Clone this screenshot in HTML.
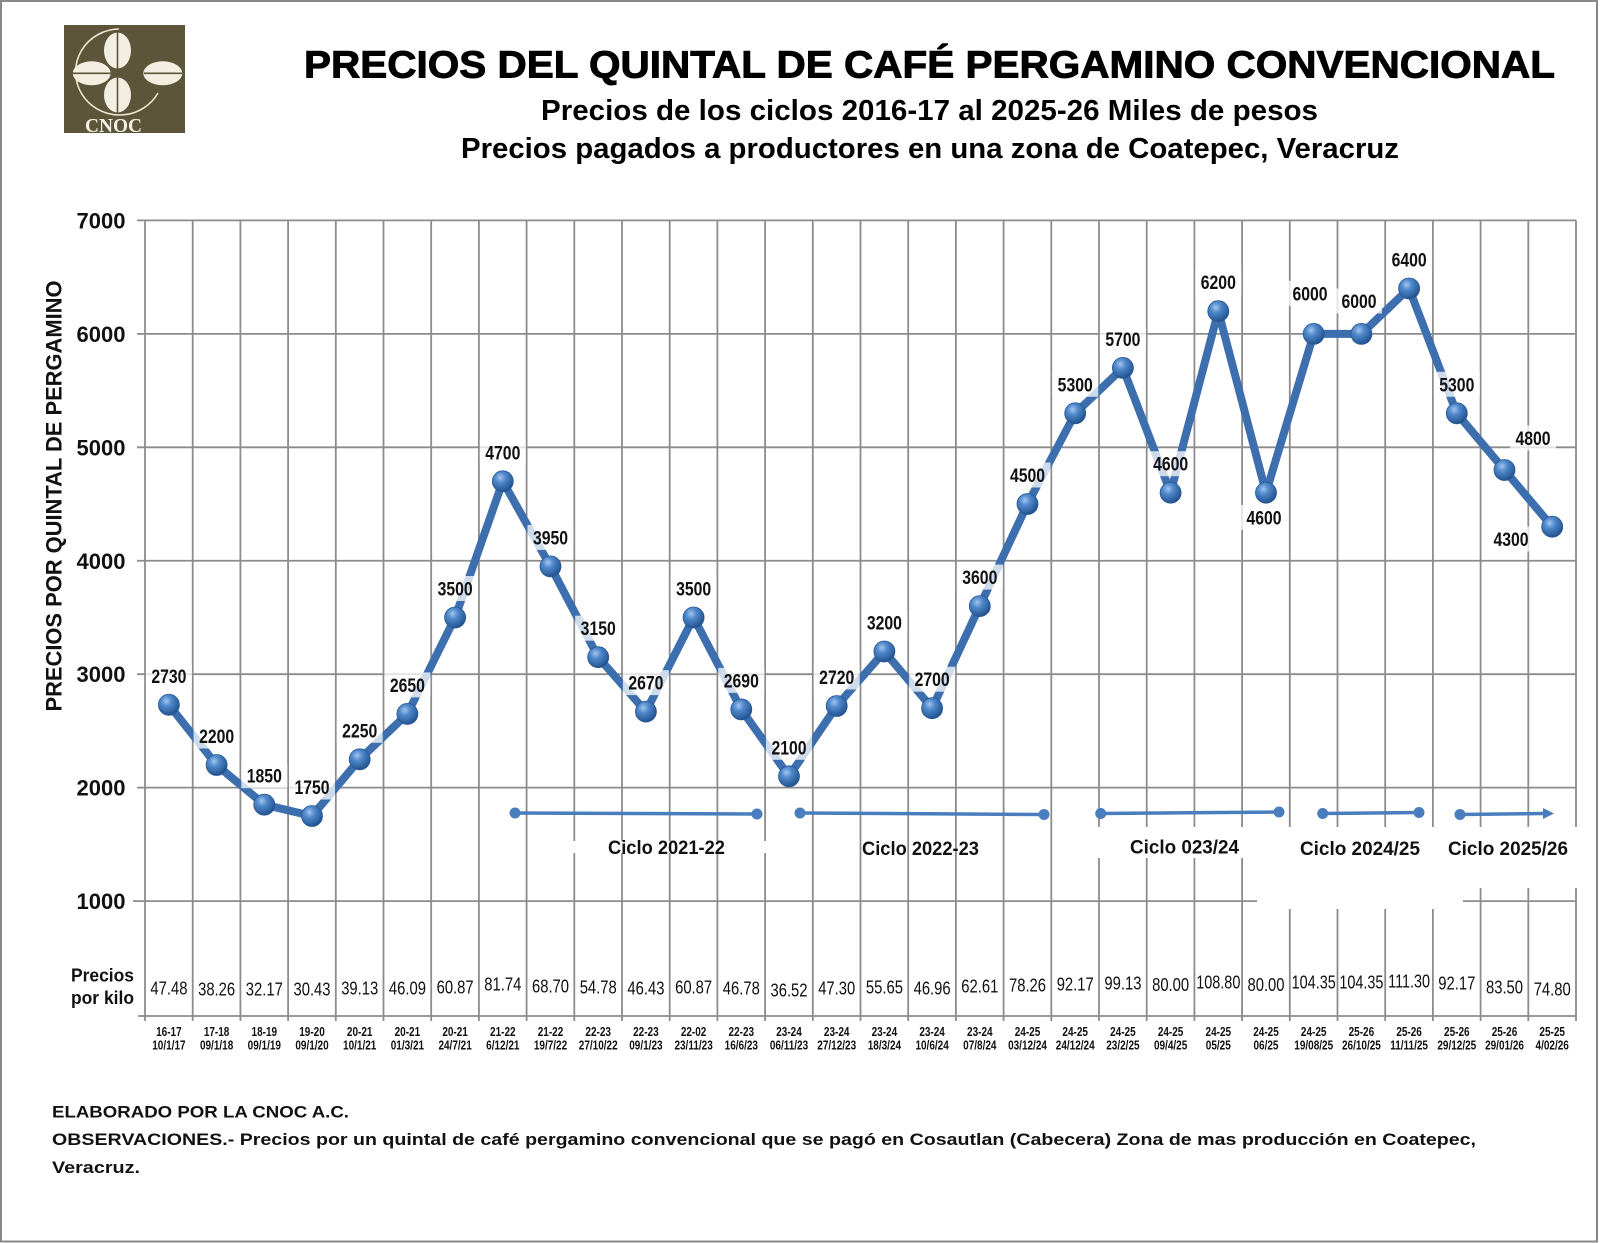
<!DOCTYPE html>
<html><head><meta charset="utf-8"><style>html,body{margin:0;padding:0;background:#fff}svg{display:block}</style></head>
<body>
<svg width="1600" height="1243" viewBox="0 0 1600 1243" xmlns="http://www.w3.org/2000/svg" font-family="'Liberation Sans', Arial, sans-serif">
<defs>
<radialGradient id="m" cx="38%" cy="32%" r="72%">
<stop offset="0" stop-color="#a3c4ee"/>
<stop offset="0.35" stop-color="#5089cc"/>
<stop offset="1" stop-color="#1f4e8a"/>
</radialGradient>
</defs>
<rect x="0" y="0" width="1600" height="1243" fill="#fff"/>
<rect x="1" y="1" width="1596" height="1240.5" fill="none" stroke="#888" stroke-width="2"/>

<!-- Logo -->
<rect x="64" y="25" width="121" height="108" fill="#5c5539"/>
<path d="M119 29 A44 43 0 1 0 158 93" fill="none" stroke="#ece6d2" stroke-width="1.6"/>
<g fill="#f2eee2">
<ellipse cx="117.5" cy="50.5" rx="13.5" ry="18"/>
<ellipse cx="117.5" cy="95" rx="13.5" ry="17.5"/>
<ellipse cx="91.7" cy="73.3" rx="19" ry="12"/>
<ellipse cx="162.8" cy="73.3" rx="19.5" ry="12"/>
</g>
<g stroke="#5c5539" stroke-width="1.6">
<line x1="117.5" y1="32" x2="117.5" y2="113"/>
<line x1="72" y1="73.3" x2="111" y2="73.3"/>
<line x1="144" y1="73.3" x2="182" y2="73.3"/>
</g>
<text x="85" y="132" font-family="'Liberation Serif', serif" font-weight="bold" font-size="20" fill="#f2eee2" textLength="57" lengthAdjust="spacingAndGlyphs">CNOC</text>

<!-- Titles -->
<text x="304" y="77.5" font-size="38" font-weight="bold" fill="#000" stroke="#000" stroke-width="0.9" textLength="1251" lengthAdjust="spacingAndGlyphs">PRECIOS DEL QUINTAL DE CAFÉ PERGAMINO CONVENCIONAL</text>
<text x="541" y="120" font-size="28.5" font-weight="bold" fill="#000" textLength="777" lengthAdjust="spacingAndGlyphs">Precios de los ciclos 2016-17 al 2025-26 Miles de pesos</text>
<text x="461" y="158" font-size="28.5" font-weight="bold" fill="#000" textLength="938" lengthAdjust="spacingAndGlyphs">Precios pagados a productores en una zona de Coatepec, Veracruz</text>

<!-- Grid -->
<g stroke="#8c8c8c" stroke-width="1.8" fill="none">
<path d="M137 220.4H1576 M137 333.85H1576 M137 447.3H1576 M137 560.75H1576 M137 674.2H1576 M137 787.65H1576 M133 901.1H1576 M138 1016H1576"/>
<path d="M145 220.4V1021 M192.7 220.4V1021 M240.4 220.4V1021 M288.1 220.4V1021 M335.8 220.4V1021 M383.5 220.4V1021 M431.2 220.4V1021 M478.9 220.4V1021 M526.6 220.4V1021 M574.3 220.4V1021 M622 220.4V1021 M669.7 220.4V1021 M717.4 220.4V1021 M765.1 220.4V1021 M812.8 220.4V1021 M860.5 220.4V1021 M908.2 220.4V1021 M955.9 220.4V1021 M1003.6 220.4V1021 M1051.3 220.4V1021 M1099 220.4V1021 M1146.7 220.4V1021 M1194.4 220.4V1021 M1242.1 220.4V1021 M1289.8 220.4V1021 M1337.5 220.4V1021 M1385.2 220.4V1021 M1432.9 220.4V1021 M1480.6 220.4V1021 M1528.3 220.4V1021 M1576 220.4V1021"/>
</g>
<!-- white boxes behind cycle labels -->
<g fill="#fff">
<rect x="570" y="841" width="198" height="12"/>
<rect x="1078" y="827" width="179" height="31"/>
<rect x="1257" y="827" width="206" height="82"/>
<rect x="1463" y="827" width="120" height="61"/>
</g>

<!-- Y axis labels -->
<g font-size="22" font-weight="bold" fill="#111" text-anchor="end">
<text x="125.5" y="228.4">7000</text>
<text x="125.5" y="341.9">6000</text>
<text x="125.5" y="455.3">5000</text>
<text x="125.5" y="568.8">4000</text>
<text x="125.5" y="682.2">3000</text>
<text x="125.5" y="795.7">2000</text>
<text x="125.5" y="909.1">1000</text>
</g>
<text transform="translate(61.5,496) rotate(-90)" text-anchor="middle" font-size="22" font-weight="bold" fill="#111" textLength="431" lengthAdjust="spacingAndGlyphs">PRECIOS POR QUINTAL DE PERGAMINO</text>

<!-- Cycle lines -->
<g stroke="#4a7dbd" stroke-width="3.5" fill="none">
<path d="M515 813L757 814 M800 813L1044 814.5 M1100.7 813.5L1279 812 M1322.7 813.5L1419 812.5 M1460 814.5L1545 813.5"/>
</g>
<g fill="#4a7dbd">
<circle cx="515" cy="813" r="5.5"/><circle cx="757" cy="814" r="5.5"/>
<circle cx="800" cy="813" r="5.5"/><circle cx="1044" cy="814.5" r="5.5"/>
<circle cx="1100.7" cy="813.5" r="5.5"/><circle cx="1279" cy="812" r="5.5"/>
<circle cx="1322.7" cy="813.5" r="5.5"/><circle cx="1419" cy="812.5" r="5.5"/>
<circle cx="1460" cy="814.5" r="5.5"/>
<polygon points="1543,808 1554,813.5 1543,819"/>
</g>
<g font-size="19" font-weight="bold" fill="#111">
<text x="608" y="854" textLength="117" lengthAdjust="spacingAndGlyphs">Ciclo 2021-22</text>
<text x="862" y="855" textLength="117" lengthAdjust="spacingAndGlyphs">Ciclo 2022-23</text>
<text x="1130" y="853.5" textLength="109" lengthAdjust="spacingAndGlyphs">Ciclo 023/24</text>
<text x="1300" y="855" textLength="120" lengthAdjust="spacingAndGlyphs">Ciclo 2024/25</text>
<text x="1448" y="855" textLength="120" lengthAdjust="spacingAndGlyphs">Ciclo 2025/26</text>
</g>

<!-- Series -->
<polyline fill="none" stroke="#3d6fae" stroke-width="8" stroke-linejoin="round" points="168.9,704.8 216.6,765 264.3,804.7 312,816 359.7,759.3 407.4,713.9 455.1,617.5 502.8,481.3 550.5,566.4 598.2,657.2 645.9,711.6 693.6,617.5 741.3,709.4 789,776.3 836.7,706 884.4,651.5 932.1,708.2 979.8,606.1 1027.5,504 1075.2,413.3 1122.9,367.9 1170.6,492.7 1218.3,311.2 1266,492.7 1313.7,333.9 1361.4,333.9 1409.1,288.5 1456.8,413.3 1504.5,470 1552.2,526.7"/>
<g fill="url(#m)" stroke="#2a5994" stroke-width="0.8">
<circle cx="168.9" cy="704.8" r="10.5"/><circle cx="216.6" cy="765" r="10.5"/><circle cx="264.3" cy="804.7" r="10.5"/><circle cx="312" cy="816" r="10.5"/><circle cx="359.7" cy="759.3" r="10.5"/><circle cx="407.4" cy="713.9" r="10.5"/><circle cx="455.1" cy="617.5" r="10.5"/><circle cx="502.8" cy="481.3" r="10.5"/><circle cx="550.5" cy="566.4" r="10.5"/><circle cx="598.2" cy="657.2" r="10.5"/><circle cx="645.9" cy="711.6" r="10.5"/><circle cx="693.6" cy="617.5" r="10.5"/><circle cx="741.3" cy="709.4" r="10.5"/><circle cx="789" cy="776.3" r="10.5"/><circle cx="836.7" cy="706" r="10.5"/><circle cx="884.4" cy="651.5" r="10.5"/><circle cx="932.1" cy="708.2" r="10.5"/><circle cx="979.8" cy="606.1" r="10.5"/><circle cx="1027.5" cy="504" r="10.5"/><circle cx="1075.2" cy="413.3" r="10.5"/><circle cx="1122.9" cy="367.9" r="10.5"/><circle cx="1170.6" cy="492.7" r="10.5"/><circle cx="1218.3" cy="311.2" r="10.5"/><circle cx="1266" cy="492.7" r="10.5"/><circle cx="1313.7" cy="333.9" r="10.5"/><circle cx="1361.4" cy="333.9" r="10.5"/><circle cx="1409.1" cy="288.5" r="10.5"/><circle cx="1456.8" cy="413.3" r="10.5"/><circle cx="1504.5" cy="470" r="10.5"/><circle cx="1552.2" cy="526.7" r="10.5"/>
</g>

<!-- Data label backgrounds -->
<g fill="#fff" fill-opacity="0.75">
<rect x="145.9" y="663.3" width="46" height="25"/>
<rect x="193.6" y="723.5" width="46" height="25"/>
<rect x="241.3" y="763.2" width="46" height="25"/>
<rect x="289" y="774.5" width="46" height="25"/>
<rect x="336.7" y="717.8" width="46" height="25"/>
<rect x="384.4" y="672.4" width="46" height="25"/>
<rect x="432.1" y="576" width="46" height="25"/>
<rect x="479.8" y="439.8" width="46" height="25"/>
<rect x="527.5" y="524.9" width="46" height="25"/>
<rect x="575.2" y="615.7" width="46" height="25"/>
<rect x="622.9" y="670.1" width="46" height="25"/>
<rect x="670.6" y="576" width="46" height="25"/>
<rect x="718.3" y="667.9" width="46" height="25"/>
<rect x="766" y="734.8" width="46" height="25"/>
<rect x="813.7" y="664.5" width="46" height="25"/>
<rect x="861.4" y="610" width="46" height="25"/>
<rect x="909.1" y="666.7" width="46" height="25"/>
<rect x="956.8" y="564.6" width="46" height="25"/>
<rect x="1004.5" y="462.5" width="46" height="25"/>
<rect x="1052.2" y="371.8" width="46" height="25"/>
<rect x="1099.9" y="326.4" width="46" height="25"/>
<rect x="1147.6" y="451.2" width="46" height="25"/>
<rect x="1195.3" y="269.7" width="46" height="25"/>
<rect x="1241" y="505" width="46" height="25"/>
<rect x="1287" y="280.8" width="46" height="25"/>
<rect x="1336" y="288.5" width="46" height="25"/>
<rect x="1386.1" y="247" width="46" height="25"/>
<rect x="1433.8" y="371.8" width="46" height="25"/>
<rect x="1510" y="425.5" width="46" height="25"/>
<rect x="1488" y="526.5" width="46" height="25"/>
</g>
<g font-size="19" font-weight="bold" fill="#111" text-anchor="middle">
<text transform="translate(168.9,682.8) scale(.83,1)">2730</text>
<text transform="translate(216.6,743) scale(.83,1)">2200</text>
<text transform="translate(264.3,782.7) scale(.83,1)">1850</text>
<text transform="translate(312,794) scale(.83,1)">1750</text>
<text transform="translate(359.7,737.3) scale(.83,1)">2250</text>
<text transform="translate(407.4,691.9) scale(.83,1)">2650</text>
<text transform="translate(455.1,595.5) scale(.83,1)">3500</text>
<text transform="translate(502.8,459.3) scale(.83,1)">4700</text>
<text transform="translate(550.5,544.4) scale(.83,1)">3950</text>
<text transform="translate(598.2,635.2) scale(.83,1)">3150</text>
<text transform="translate(645.9,689.6) scale(.83,1)">2670</text>
<text transform="translate(693.6,595.5) scale(.83,1)">3500</text>
<text transform="translate(741.3,687.4) scale(.83,1)">2690</text>
<text transform="translate(789,754.3) scale(.83,1)">2100</text>
<text transform="translate(836.7,684) scale(.83,1)">2720</text>
<text transform="translate(884.4,629.5) scale(.83,1)">3200</text>
<text transform="translate(932.1,686.2) scale(.83,1)">2700</text>
<text transform="translate(979.8,584.1) scale(.83,1)">3600</text>
<text transform="translate(1027.5,482) scale(.83,1)">4500</text>
<text transform="translate(1075.2,391.3) scale(.83,1)">5300</text>
<text transform="translate(1122.9,345.9) scale(.83,1)">5700</text>
<text transform="translate(1170.6,470.7) scale(.83,1)">4600</text>
<text transform="translate(1218.3,289.2) scale(.83,1)">6200</text>
<text transform="translate(1264,524.5) scale(.83,1)">4600</text>
<text transform="translate(1310,300.3) scale(.83,1)">6000</text>
<text transform="translate(1359,308) scale(.83,1)">6000</text>
<text transform="translate(1409.1,266.5) scale(.83,1)">6400</text>
<text transform="translate(1456.8,391.3) scale(.83,1)">5300</text>
<text transform="translate(1533,445) scale(.83,1)">4800</text>
<text transform="translate(1511,546) scale(.83,1)">4300</text>
</g>

<!-- Precios por kilo row -->
<text x="71" y="981.5" font-size="18" font-weight="bold" fill="#111" textLength="63" lengthAdjust="spacingAndGlyphs">Precios</text>
<text x="71" y="1004" font-size="18" font-weight="bold" fill="#111" textLength="63" lengthAdjust="spacingAndGlyphs">por kilo</text>
<g font-size="18.5" fill="#111" text-anchor="middle">
<text transform="translate(168.9,994.3) scale(.8,1)">47.48</text>
<text transform="translate(216.6,995.3) scale(.8,1)">38.26</text>
<text transform="translate(264.3,995.3) scale(.8,1)">32.17</text>
<text transform="translate(312,995.3) scale(.8,1)">30.43</text>
<text transform="translate(359.7,994.3) scale(.8,1)">39.13</text>
<text transform="translate(407.4,994.3) scale(.8,1)">46.09</text>
<text transform="translate(455.1,993.3) scale(.8,1)">60.87</text>
<text transform="translate(502.8,990.3) scale(.8,1)">81.74</text>
<text transform="translate(550.5,992.3) scale(.8,1)">68.70</text>
<text transform="translate(598.2,993.3) scale(.8,1)">54.78</text>
<text transform="translate(645.9,994.3) scale(.8,1)">46.43</text>
<text transform="translate(693.6,993.3) scale(.8,1)">60.87</text>
<text transform="translate(741.3,994.3) scale(.8,1)">46.78</text>
<text transform="translate(789,996.4) scale(.8,1)">36.52</text>
<text transform="translate(836.7,994.3) scale(.8,1)">47.30</text>
<text transform="translate(884.4,993.3) scale(.8,1)">55.65</text>
<text transform="translate(932.1,994.3) scale(.8,1)">46.96</text>
<text transform="translate(979.8,992.3) scale(.8,1)">62.61</text>
<text transform="translate(1027.5,991.3) scale(.8,1)">78.26</text>
<text transform="translate(1075.2,990.3) scale(.8,1)">92.17</text>
<text transform="translate(1122.9,989.3) scale(.8,1)">99.13</text>
<text transform="translate(1170.6,990.9) scale(.8,1)">80.00</text>
<text transform="translate(1218.3,988.6) scale(.78,1)">108.80</text>
<text transform="translate(1266,990.9) scale(.8,1)">80.00</text>
<text transform="translate(1313.7,988.6) scale(.78,1)">104.35</text>
<text transform="translate(1361.4,988.6) scale(.78,1)">104.35</text>
<text transform="translate(1409.1,987.6) scale(.78,1)">111.30</text>
<text transform="translate(1456.8,989.6) scale(.8,1)">92.17</text>
<text transform="translate(1504.5,993.6) scale(.8,1)">83.50</text>
<text transform="translate(1552.2,995.6) scale(.8,1)">74.80</text>
</g>

<!-- Category labels -->
<g font-size="12.5" font-weight="bold" fill="#111" text-anchor="middle">
<text transform="translate(168.9,1036) scale(.8,1)">16-17</text><text transform="translate(168.9,1049.5) scale(.8,1)">10/1/17</text>
<text transform="translate(216.6,1036) scale(.8,1)">17-18</text><text transform="translate(216.6,1049.5) scale(.8,1)">09/1/18</text>
<text transform="translate(264.3,1036) scale(.8,1)">18-19</text><text transform="translate(264.3,1049.5) scale(.8,1)">09/1/19</text>
<text transform="translate(312,1036) scale(.8,1)">19-20</text><text transform="translate(312,1049.5) scale(.8,1)">09/1/20</text>
<text transform="translate(359.7,1036) scale(.8,1)">20-21</text><text transform="translate(359.7,1049.5) scale(.8,1)">10/1/21</text>
<text transform="translate(407.4,1036) scale(.8,1)">20-21</text><text transform="translate(407.4,1049.5) scale(.8,1)">01/3/21</text>
<text transform="translate(455.1,1036) scale(.8,1)">20-21</text><text transform="translate(455.1,1049.5) scale(.8,1)">24/7/21</text>
<text transform="translate(502.8,1036) scale(.8,1)">21-22</text><text transform="translate(502.8,1049.5) scale(.8,1)">6/12/21</text>
<text transform="translate(550.5,1036) scale(.8,1)">21-22</text><text transform="translate(550.5,1049.5) scale(.8,1)">19/7/22</text>
<text transform="translate(598.2,1036) scale(.8,1)">22-23</text><text transform="translate(598.2,1049.5) scale(.8,1)">27/10/22</text>
<text transform="translate(645.9,1036) scale(.8,1)">22-23</text><text transform="translate(645.9,1049.5) scale(.8,1)">09/1/23</text>
<text transform="translate(693.6,1036) scale(.8,1)">22-02</text><text transform="translate(693.6,1049.5) scale(.8,1)">23/11/23</text>
<text transform="translate(741.3,1036) scale(.8,1)">22-23</text><text transform="translate(741.3,1049.5) scale(.8,1)">16/6/23</text>
<text transform="translate(789,1036) scale(.8,1)">23-24</text><text transform="translate(789,1049.5) scale(.8,1)">06/11/23</text>
<text transform="translate(836.7,1036) scale(.8,1)">23-24</text><text transform="translate(836.7,1049.5) scale(.8,1)">27/12/23</text>
<text transform="translate(884.4,1036) scale(.8,1)">23-24</text><text transform="translate(884.4,1049.5) scale(.8,1)">18/3/24</text>
<text transform="translate(932.1,1036) scale(.8,1)">23-24</text><text transform="translate(932.1,1049.5) scale(.8,1)">10/6/24</text>
<text transform="translate(979.8,1036) scale(.8,1)">23-24</text><text transform="translate(979.8,1049.5) scale(.8,1)">07/8/24</text>
<text transform="translate(1027.5,1036) scale(.8,1)">24-25</text><text transform="translate(1027.5,1049.5) scale(.8,1)">03/12/24</text>
<text transform="translate(1075.2,1036) scale(.8,1)">24-25</text><text transform="translate(1075.2,1049.5) scale(.8,1)">24/12/24</text>
<text transform="translate(1122.9,1036) scale(.8,1)">24-25</text><text transform="translate(1122.9,1049.5) scale(.8,1)">23/2/25</text>
<text transform="translate(1170.6,1036) scale(.8,1)">24-25</text><text transform="translate(1170.6,1049.5) scale(.8,1)">09/4/25</text>
<text transform="translate(1218.3,1036) scale(.8,1)">24-25</text><text transform="translate(1218.3,1049.5) scale(.8,1)">05/25</text>
<text transform="translate(1266,1036) scale(.8,1)">24-25</text><text transform="translate(1266,1049.5) scale(.8,1)">06/25</text>
<text transform="translate(1313.7,1036) scale(.8,1)">24-25</text><text transform="translate(1313.7,1049.5) scale(.8,1)">19/08/25</text>
<text transform="translate(1361.4,1036) scale(.8,1)">25-26</text><text transform="translate(1361.4,1049.5) scale(.8,1)">26/10/25</text>
<text transform="translate(1409.1,1036) scale(.8,1)">25-26</text><text transform="translate(1409.1,1049.5) scale(.8,1)">11/11/25</text>
<text transform="translate(1456.8,1036) scale(.8,1)">25-26</text><text transform="translate(1456.8,1049.5) scale(.8,1)">29/12/25</text>
<text transform="translate(1504.5,1036) scale(.8,1)">25-26</text><text transform="translate(1504.5,1049.5) scale(.8,1)">29/01/26</text>
<text transform="translate(1552.2,1036) scale(.8,1)">25-25</text><text transform="translate(1552.2,1049.5) scale(.8,1)">4/02/26</text>
</g>

<!-- Footer -->
<g font-size="17" font-weight="bold" fill="#111">
<text x="52" y="1117.5" textLength="297" lengthAdjust="spacingAndGlyphs">ELABORADO POR LA CNOC A.C.</text>
<text x="52" y="1145" textLength="1424" lengthAdjust="spacingAndGlyphs">OBSERVACIONES.- Precios por un quintal de café pergamino convencional  que se pagó en Cosautlan (Cabecera) Zona de mas producción  en Coatepec,</text>
<text x="52" y="1173" textLength="88" lengthAdjust="spacingAndGlyphs">Veracruz.</text>
</g>
</svg>
</body></html>
